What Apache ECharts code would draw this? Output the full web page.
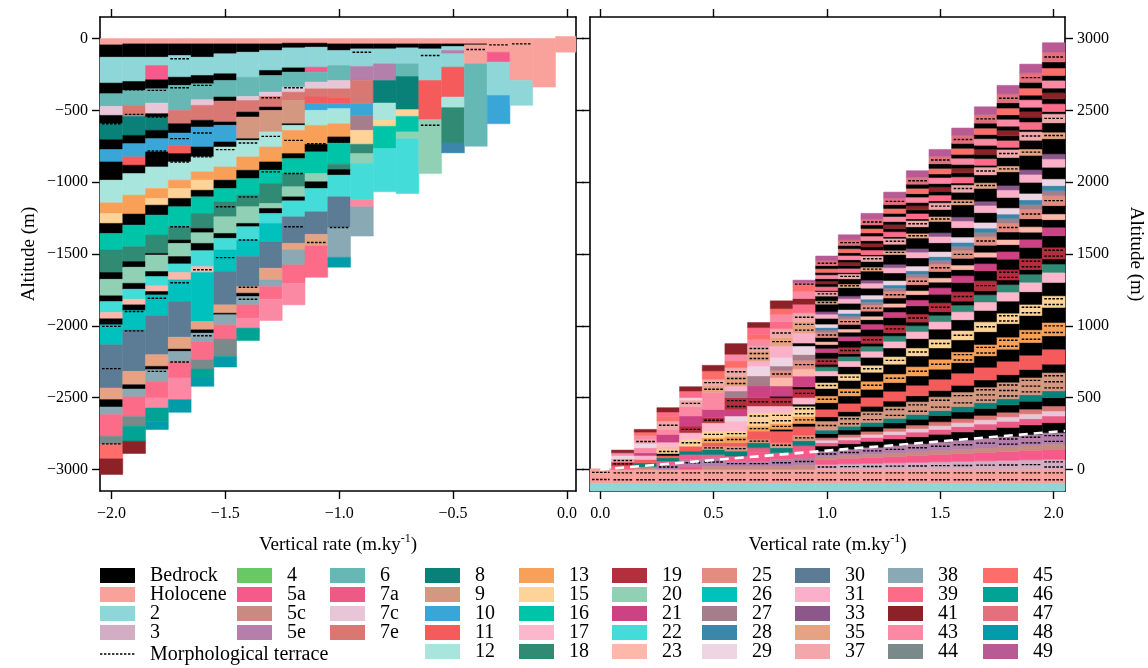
<!DOCTYPE html>
<html><head><meta charset="utf-8">
<script src="https://cdn.jsdelivr.net/npm/echarts@6/dist/echarts.min.js"></script>
<style>html,body{margin:0;padding:0;background:#fff}#c{width:1148px;height:668px}</style>
</head><body><div id="c"></div>
<script>
// ---------- DATA ----------
const stageKeys = ['B','H','2','3','4','5a','5c','5e','6','7a','7c','7e','8','9','10','11','12','13','15','16','17','18','19','20','21','22','23','25','26','27','28','29','30','31','33','35','37','38','39','41','43','44','45','46','47','48','49'];
const stageLabels = ['Bedrock','Holocene','2','3','4','5a','5c','5e','6','7a','7c','7e','8','9','10','11','12','13','15','16','17','18','19','20','21','22','23','25','26','27','28','29','30','31','33','35','37','38','39','41','43','44','45','46','47','48','49'];
const stageColors = ['#000000','#F8A29B','#8FD6D8','#D3ADC3','#66C964','#F65A8A','#C98A80','#B47FAA','#66B8B5','#EE5A86','#E8C6D8','#D97772','#0A8178','#D4977F','#3AA6D8','#F55B5B','#A8E6DD','#F9A058','#FDD397','#00C4A7','#FDB7CD','#318A73','#B52E3E','#90D1B5','#CC4283','#44DCD9','#FDB8AA','#E58C80','#00C1BE','#A57E8B','#3C86AC','#EED5E3','#5B7C94','#FAB0C9','#8C578A','#E6A384','#F2A8AA','#89A9B4','#FC6C88','#8C2228','#FC89A4','#7A8A8B','#FD6E6A','#00A394','#E4707E','#009CAA','#B85A93'];

// Subsidence panel: [rate, top altitude, [stage, lower boundary, ...]] read from top downwards
const subsidenceColumns = [
 [-2.0, 0, ['H',-44,'B',-130,'2',-310,'B',-384,'6',-472,'7c',-535,'B',-593,'8',-704,'B',-773,'10',-859,'B',-986,'12',-1144,'13',-1218,'15',-1287,'B',-1357,'16',-1472,'18',-1629,'B',-1676,'20',-1791,'B',-1831,'22',-1907,'23',-1951,'B',-1993,'26',-2132,'30',-2433,'35',-2514,'B',-2565,'38',-2618,'39',-2768,'44',-2826,'45',-2926,'41',-3035]],
 [-1.9, 0, ['H',-37,'B',-130,'2',-299,'B',-361,'6',-465,'7e',-542,'8',-674,'B',-732,'10',-824,'11',-882,'B',-940,'12',-1090,'13',-1222,'B',-1299,'16',-1449,'18',-1553,'B',-1592,'20',-1704,'B',-1745,'22',-1815,'23',-1854,'B',-1893,'26',-2028,'30',-2317,'35',-2410,'B',-2440,'38',-2495,'39',-2630,'44',-2699,'46',-2803,'41',-2889]],
 [-1.8, 0, ['H',-37,'B',-130,'2',-188,'5a',-287,'B',-350,'6',-449,'7c',-523,'B',-546,'8',-639,'B',-697,'10',-789,'B',-894,'12',-1044,'13',-1113,'15',-1160,'B',-1229,'16',-1368,'18',-1496,'B',-1507,'20',-1622,'B',-1657,'22',-1722,'23',-1761,'B',-1785,'26',-1930,'30',-2201,'35',-2282,'B',-2305,'38',-2386,'39',-2502,'43',-2572,'46',-2664,'48',-2722]],
 [-1.7, 0, ['H',-37,'B',-118,'2',-269,'B',-326,'6',-500,'7e',-593,'B',-658,'10',-743,'11',-801,'B',-859,'12',-986,'13',-1044,'15',-1113,'B',-1171,'16',-1310,'18',-1403,'B',-1426,'20',-1518,'B',-1569,'22',-1629,'23',-1680,'26',-1831,'30',-2079,'35',-2162,'B',-2178,'38',-2248,'39',-2363,'43',-2514,'48',-2602]],
 [-1.6, 0, ['H',-37,'B',-130,'2',-257,'B',-315,'6',-426,'7c',-465,'7e',-569,'B',-616,'10',-755,'B',-824,'12',-928,'13',-986,'15',-1056,'B',-1102,'16',-1218,'18',-1322,'B',-1352,'20',-1426,'B',-1477,'22',-1588,'23',-1629,'26',-1970,'35',-2028,'B',-2051,'38',-2109,'39',-2236,'44',-2301,'46',-2363,'48',-2421]],
 [-1.5, 0, ['H',-37,'B',-106,'2',-245,'B',-292,'6',-407,'B',-435,'7e',-581,'B',-604,'10',-720,'B',-755,'12',-894,'13',-986,'B',-1044,'16',-1137,'18',-1241,'20',-1357,'B',-1391,'22',-1472,'26',-1622,'30',-1854,'35',-1912,'B',-1923,'38',-1993,'39',-2092,'44',-2213,'48',-2287]],
 [-1.4, 0, ['H',-37,'B',-95,'2',-269,'6',-403,'7c',-431,'7e',-512,'B',-546,'9',-697,'B',-709,'12',-824,'13',-917,'B',-975,'16',-1090,'18',-1171,'20',-1287,'B',-1310,'22',-1403,'26',-1518,'30',-1727,'35',-1773,'B',-1796,'38',-1854,'39',-1947,'43',-2016,'46',-2102]],
 [-1.3, 0, ['H',-37,'B',-83,'2',-222,'B',-257,'6',-373,'7c',-403,'7e',-477,'B',-500,'9',-650,'12',-755,'13',-859,'B',-917,'16',-1009,'18',-1148,'20',-1183,'B',-1218,'22',-1287,'26',-1415,'30',-1599,'35',-1680,'38',-1727,'39',-1815,'43',-1963]],
 [-1.2, 0, ['H',-32,'B',-65,'2',-204,'B',-234,'6',-338,'7c',-373,'7e',-431,'9',-593,'B',-604,'12',-639,'13',-801,'B',-836,'16',-940,'18',-1032,'20',-1102,'B',-1130,'22',-1241,'30',-1426,'35',-1472,'38',-1576,'39',-1704,'43',-1854]],
 [-1.1, 0, ['H',-32,'B',-60,'2',-199,'5a',-234,'6',-303,'7c',-350,'7e',-407,'11',-454,'10',-500,'12',-604,'13',-736,'B',-789,'16',-940,'20',-997,'B',-1044,'22',-1206,'30',-1363,'35',-1444,'39',-1662]],
 [-1.0, 0, ['H',-37,'B',-83,'2',-188,'6',-292,'7c',-350,'7e',-412,'11',-454,'10',-488,'12',-593,'13',-685,'B',-727,'16',-875,'18',-912,'B',-951,'22',-1102,'30',-1315,'38',-1523,'48',-1592]],
 [-0.9, 0, ['H',-37,'B',-72,'2',-194,'5e',-292,'7e',-454,'10',-535,'27',-639,'15',-736,'18',-801,'20',-870,'22',-1120,'43',-1171,'38',-1375]],
 [-0.8, 0, ['H',-37,'B',-72,'2',-176,'5e',-292,'8',-449,'12',-570,'15',-611,'16',-766,'22',-1067]],
 [-0.7, 0, ['H',-37,'B',-65,'2',-176,'6',-264,'8',-495,'15',-542,'16',-650,'20',-697,'22',-1079]],
 [-0.6, 0, ['H',-37,'B',-72,'2',-292,'11',-565,'20',-940]],
 [-0.5, 0, ['H',-37,'B',-55,'2',-83,'5e',-106,'2',-199,'11',-407,'12',-481,'18',-727,'28',-796]],
 [-0.4, 0, ['H',-37,'B',-44,'H',-176,'6',-750]],
 [-0.3, 0, ['H',-95,'5a',-164,'2',-396,'10',-593]],
 [-0.2, 0, ['H',-292,'2',-465]],
 [-0.1, 0, ['H',-338]],
 [0.0, 15, ['H',-95]]
];
// Morphological terraces in the subsidence panel: [rate, altitude]
const subsidenceTerraces = [
 [-2.0,-593],[-2.0,-2004],[-2.0,-2298],[-2.0,-2822],
 [-1.9,-357],[-1.9,-528],[-1.9,-1900],[-1.9,-2035],
 [-1.8,-361],[-1.8,-546],[-1.8,-783],[-1.8,-1808],[-1.8,-2317],
 [-1.7,-141],[-1.7,-343],[-1.7,-697],[-1.7,-859],[-1.7,-1310],[-1.7,-1700],[-1.7,-2252],
 [-1.6,-326],[-1.6,-658],[-1.6,-824],[-1.6,-1610],[-1.6,-2069],
 [-1.5,-773],[-1.5,-1171],[-1.5,-1525],
 [-1.4,-727],[-1.4,-1102],[-1.4,-1403],[-1.4,-1731],[-1.4,-1815],
 [-1.3,-412],[-1.3,-681],[-1.3,-928],
 [-1.2,-343],[-1.2,-709],[-1.2,-940],[-1.2,-1310],
 [-1.1,-732],[-1.1,-1420],
 [-1.0,-720],[-1.0,-1315],
 [-0.9,-95],[-0.6,-118],[-0.6,-604],[-0.4,-76],[-0.3,-44],[-0.2,-37]
];

// Uplift panel, low rates: [rate, bottom altitude, [stage, upper boundary, ...]] read upwards
const upliftLowColumns = [
 [0.0, -150, ['2',-95,'H',5]],
 [0.1, -150, ['2',-95,'H',0,'5a',15,'11',28,'19',51,'37',74,'29',97,'43',116,'41',135]],
 [0.2, -150, ['2',-95,'H',0,'5c',18,'8',46,'11',70,'17',97,'21',116,'43',151,'29',181,'37',209,'43',237,'45',260,'41',279]],
 [0.3, -150, ['2',-95,'H',0,'5e',35,'5a',58,'8',81,'11',97,'B',111,'15',139,'23',162,'17',190,'21',244,'43',279,'37',337,'45',367,'39',400,'41',430]],
 [0.4, -150, ['2',-95,'H',0,'7a',23,'5e',70,'5a',104,'8',128,'11',162,'15',209,'17',256,'19',302,'21',372,'43',437,'37',483,'29',500,'39',546,'41',576]],
 [0.5, -150, ['2',-95,'H',0,'5c',23,'5e',81,'5a',104,'8',139,'9',162,'11',186,'13',221,'15',267,'17',325,'19',360,'21',418,'43',535,'35',581,'37',628,'45',686,'41',725]],
 [0.6, -150, ['2',-95,'H',0,'5c',23,'5e',58,'5a',93,'8',128,'9',162,'11',186,'13',232,'15',267,'17',337,'29',372,'21',418,'19',500,'27',546,'31',581,'35',651,'37',709,'45',755,'43',802,'41',876]],
 [0.7, -150, ['2',-95,'H',0,'5c',23,'5e',58,'5a',116,'7a',151,'8',186,'9',209,'11',267,'13',302,'15',395,'17',442,'19',500,'21',581,'27',651,'29',720,'31',755,'35',825,'37',860,'43',906,'45',941,'39',988,'41',1023]],
 [0.8, -150, ['2',-95,'H',0,'5c',23,'5e',70,'5a',116,'8',151,'9',186,'11',267,'B',280,'13',320,'15',395,'17',442,'19',500,'B',510,'21',581,'23',640,'25',690,'27',720,'29',780,'31',860,'35',920,'37',980,'39',1030,'43',1080,'45',1120,'41',1174]],
 [0.9, -150, ['2',-95,'H',0,'5c',30,'5e',80,'5a',125,'7a',165,'8',200,'9',240,'11',300,'B',320,'13',370,'15',440,'B',455,'17',500,'19',560,'B',575,'21',650,'23',700,'25',760,'27',800,'29',860,'B',880,'31',950,'35',1030,'37',1090,'39',1150,'41',1190,'43',1240,'45',1280,'47',1300,'49',1318]]
];
// Uplift panel, high rates: common stage sequence and upper boundaries per column
const upliftStages = ['2','H','3','5a','5c','5e','B','7a','7c','7e','B','8','9','B','11','B','13','B','15','B','17','18','B','19','B','21','B','23','B','25','27','28','29','B','31','33','B','35','B','37','B','39','B','41','B','43','B','45','B','47','49'];
const upliftRates = [1.0,1.1,1.2,1.3,1.4,1.5,1.6,1.7,1.8,1.9,2.0];
const upliftTops = [
 [-95,0,35,70,88,128,163,186,204,221,250,274,337,367,419,465,512,564,605,651,686,715,733,773,814,843,870,890,919,953,971,988,1012,1052,1081,1099,1151,1174,1207,1238,1246,1273,1291,1312,1328,1355,1372,1398,1419,1453,1486],
 [-95,0,39,77,96,141,179,205,224,243,275,301,371,403,460,512,563,620,665,716,755,787,806,850,895,927,956,978,1010,1048,1068,1087,1113,1157,1189,1208,1266,1291,1327,1362,1371,1400,1420,1443,1460,1490,1509,1537,1560,1598,1634],
 [-95,0,42,84,105,154,196,223,244,265,300,328,404,440,502,558,614,677,725,781,823,858,879,928,976,1012,1043,1067,1102,1144,1165,1186,1214,1262,1297,1318,1381,1409,1448,1486,1495,1528,1549,1574,1593,1625,1646,1677,1702,1744,1783],
 [-95,0,46,91,114,166,212,242,265,287,325,356,438,476,544,605,665,733,786,846,892,930,952,1005,1058,1096,1130,1156,1194,1239,1262,1284,1315,1368,1405,1428,1496,1526,1568,1609,1620,1655,1678,1705,1726,1761,1783,1817,1844,1889,1931],
 [-95,0,49,98,123,179,228,260,285,309,350,383,472,513,586,651,716,790,846,911,960,1001,1026,1082,1139,1180,1217,1245,1286,1334,1359,1383,1416,1473,1513,1538,1611,1644,1689,1733,1744,1782,1807,1836,1859,1896,1920,1957,1986,2034,2080],
 [-95,0,53,105,131,192,245,279,305,332,375,410,506,550,628,698,767,846,907,977,1029,1073,1099,1160,1220,1265,1304,1334,1378,1430,1456,1482,1517,1578,1622,1648,1727,1761,1810,1857,1869,1910,1936,1967,1991,2032,2057,2096,2128,2180,2228],
 [-95,0,56,112,140,205,261,298,326,354,400,438,539,586,670,744,818,902,967,1042,1098,1144,1172,1237,1302,1349,1391,1423,1470,1525,1553,1581,1618,1683,1730,1758,1842,1878,1930,1981,1994,2037,2065,2098,2124,2167,2194,2236,2270,2325,2377],
 [-95,0,60,119,149,218,277,316,346,376,425,465,573,623,711,791,870,959,1028,1107,1166,1216,1245,1314,1383,1433,1478,1512,1561,1620,1650,1680,1720,1788,1838,1867,1957,1996,2051,2105,2118,2164,2194,2230,2257,2303,2332,2376,2411,2470,2525],
 [-95,0,63,126,158,230,293,335,366,398,450,492,607,660,753,837,921,1015,1088,1172,1235,1287,1319,1391,1464,1517,1565,1601,1653,1715,1747,1778,1821,1894,1946,1977,2072,2113,2172,2228,2243,2291,2323,2361,2390,2438,2469,2516,2553,2615,2674],
 [-95,0,67,133,166,243,310,353,387,420,475,520,640,696,795,884,972,1072,1149,1237,1303,1359,1392,1469,1546,1602,1652,1690,1745,1811,1844,1877,1922,1999,2054,2087,2187,2231,2292,2352,2367,2419,2452,2492,2522,2574,2606,2655,2695,2761,2822],
 [-95,0,70,140,175,256,326,372,407,442,500,547,674,733,837,930,1023,1128,1209,1302,1372,1430,1465,1546,1627,1686,1739,1779,1837,1906,1941,1976,2023,2104,2162,2197,2302,2348,2413,2476,2492,2546,2581,2623,2655,2709,2743,2795,2837,2906,2971]
];
const upliftBottom = -150;
const upliftTerraceStages = ['H','3','5e','9','13','15','19','25','35','37','47'];
const incisionLine = [[0, 0], [2.05, 268]];

const xTicksLeft = [-2.0,-1.5,-1.0,-0.5,0.0];
const xTicksRight = [0.0,0.5,1.0,1.5,2.0];
const yTicksLeft = [-3000,-2500,-2000,-1500,-1000,-500,0];
const yTicksRight = [0,500,1000,1500,2000,2500,3000];

const legendColumns = [
 ['B','H','2','3'], ['4','5a','5c','5e'], ['6','7a','7c','7e'],
 ['8','9','10','11','12'], ['13','15','16','17','18'], ['19','20','21','22','23'],
 ['25','26','27','28','29'], ['30','31','33','35','37'], ['38','39','41','43','44'],
 ['45','46','47','48','49']
];

// ---------- BUILD ----------
const leftSeg = [];
subsidenceColumns.forEach(c => {
  let prev = c[1]; const l = c[2];
  for (let i = 0; i < l.length; i += 2) { leftSeg.push([c[0], prev, l[i+1], stageKeys.indexOf(l[i])]); prev = l[i+1]; }
});
const rightSeg = [];
upliftLowColumns.forEach(c => {
  let prev = c[1]; const l = c[2];
  for (let i = 0; i < l.length; i += 2) { rightSeg.push([c[0], prev, l[i+1], stageKeys.indexOf(l[i])]); prev = l[i+1]; }
});
upliftRates.forEach((r, ci) => {
  let prev = upliftBottom;
  upliftTops[ci].forEach((t, i) => { rightSeg.push([r, prev, t, stageKeys.indexOf(upliftStages[i])]); prev = t; });
});

const FONT = 'Liberation Serif';
const HALF = 0.05;
const dashStyle = {stroke:'#000', lineWidth:1.4, lineDash:[2.6,1.4]};

function segRenderer(dashStages) {
  return function (params, api) {
    const x = api.value(0), a = api.value(1), b = api.value(2), si = api.value(3);
    const p1 = api.coord([x - HALF, Math.max(a, b)]);
    const p2 = api.coord([x + HALF, Math.min(a, b)]);
    const cs = params.coordSys;
    const r = echarts.graphic.clipRectByRect(
      {x: p1[0], y: p1[1], width: p2[0] - p1[0], height: p2[1] - p1[1]},
      {x: cs.x, y: cs.y, width: cs.width, height: cs.height});
    if (!r) return;
    const col = stageColors[si];
    const children = [{type:'rect', shape:r, style:{fill:col, stroke:col, lineWidth:0.5}}];
    if (dashStages && dashStages.indexOf(stageKeys[si]) >= 0 && r.height > 2.5) {
      const n = Math.min(4, Math.max(1, Math.floor(r.height / 5)));
      for (let k = 0; k < n; k++) {
        const yy = r.y + (k + 0.5) * r.height / n;
        children.push({type:'line', shape:{x1:r.x + 2, y1:yy, x2:r.x + r.width - 2, y2:yy}, style:dashStyle});
      }
    }
    return {type:'group', children};
  };
}
function terraceRenderer(params, api) {
  const x = api.value(0), y = api.value(1);
  const p1 = api.coord([x - HALF, y]);
  const p2 = api.coord([x + HALF, y]);
  return {type:'line', shape:{x1:p1[0] + 2, y1:p1[1], x2:p2[0] - 2, y2:p2[1]}, style:dashStyle};
}

const minus = s => s.replace('-', '\u2212');
const axisLine = {show:true, onZero:false, lineStyle:{color:'#000', width:1.6}};
const tickStyle = {color:'#000', width:1.4};
const labelStyle = {fontFamily:FONT, fontSize:16, color:'#000'};
const nameStyle = {fontFamily:FONT, fontSize:19, color:'#000'};
const xName = '{n|Vertical rate (m.ky}{s|-1}{n|)}';
const xNameStyle = Object.assign({}, nameStyle, {rich:{
  n:{fontFamily:FONT, fontSize:19, color:'#000', lineHeight:24},
  s:{fontFamily:FONT, fontSize:12, color:'#000', lineHeight:12, verticalAlign:'top'}}});

function xAx(grid, pos, min, max, ticks, withLabel) {
  const o = {type:'value', gridIndex:grid, position:pos, min, max, splitLine:{show:false}, axisLine,
    axisTick:{show:true, length:8, customValues:ticks, lineStyle:tickStyle},
    axisLabel:{show:withLabel, customValues:ticks, formatter:v => minus(Number(v).toFixed(1)), margin:15, ...labelStyle}};
  if (withLabel) { o.name = xName; o.nameLocation = 'middle'; o.nameGap = 42; o.nameTextStyle = xNameStyle; }
  return o;
}
function yAx(grid, pos, ticks, min, max, withLabel, rot) {
  const o = {type:'value', gridIndex:grid, position:pos, min, max, splitLine:{show:false}, axisLine,
    axisTick:{show:true, length:8, customValues:ticks, lineStyle:tickStyle},
    axisLabel:{show:withLabel, customValues:ticks, formatter:v => minus(String(v)), margin:12, ...labelStyle}};
  if (withLabel) { o.name = 'Altitude (m)'; o.nameLocation = 'middle'; o.nameGap = 61; o.nameTextStyle = nameStyle; o.nameRotate = rot; }
  return o;
}

// legend as graphics
const legendX = [100, 237, 330, 425, 519, 612, 702, 795, 888, 983];
const legendTop = 568, legendPitch = 19;
const graphics = [];
legendColumns.forEach((col, ci) => col.forEach((key, ri) => {
  const si = stageKeys.indexOf(key);
  const y = legendTop + ri * legendPitch;
  graphics.push({type:'rect', shape:{x:legendX[ci], y:y, width:35, height:15}, style:{fill:stageColors[si]}});
  graphics.push({type:'text', x:legendX[ci] + 50, y:y + 8, style:{text:stageLabels[si], fontFamily:FONT, fontSize:20, fill:'#000', verticalAlign:'middle'}});
}));
graphics.push({type:'line', shape:{x1:100, y1:654, x2:135, y2:654}, style:{stroke:'#000', lineWidth:1.3, lineDash:[2.4,1.6]}});
graphics.push({type:'text', x:150, y:655, style:{text:'Morphological terrace', fontFamily:FONT, fontSize:20, fill:'#000', verticalAlign:'middle'}});

const chart = echarts.init(document.getElementById('c'), null, {renderer:'canvas'});
chart.setOption({
  animation:false,
  backgroundColor:'#fff',
  grid:[{left:100, top:17, width:476, height:474}, {left:590, top:17, width:475, height:474}],
  xAxis:[
    xAx(0,'bottom',-2.05,0.04,xTicksLeft,true),
    xAx(0,'top',-2.05,0.04,xTicksLeft,false),
    xAx(1,'bottom',-0.045,2.05,xTicksRight,true),
    xAx(1,'top',-0.045,2.05,xTicksRight,false)
  ],
  yAxis:[
    yAx(0,'left',yTicksLeft,-3150,150,true,90),
    yAx(0,'right',yTicksLeft,-3150,150,false),
    yAx(1,'right',yTicksRight,-150,3150,true,-90),
    yAx(1,'left',yTicksRight,-150,3150,false)
  ],
  series:[
    {type:'custom', xAxisIndex:0, yAxisIndex:0, renderItem:segRenderer(null), data:leftSeg, encode:{x:0, y:[1,2]}, silent:true},
    {type:'custom', xAxisIndex:0, yAxisIndex:0, renderItem:terraceRenderer, data:subsidenceTerraces, encode:{x:0, y:1}, silent:true, z:3},
    {type:'custom', xAxisIndex:2, yAxisIndex:2, renderItem:segRenderer(upliftTerraceStages), data:rightSeg, encode:{x:0, y:[1,2]}, silent:true},
    {type:'line', xAxisIndex:2, yAxisIndex:2, data:incisionLine, symbol:'none', silent:true, z:5,
      lineStyle:{color:'#fff', width:2.6, type:[9,6]}}
  ],
  graphic:{elements:graphics}
});
</script>
</body></html>
